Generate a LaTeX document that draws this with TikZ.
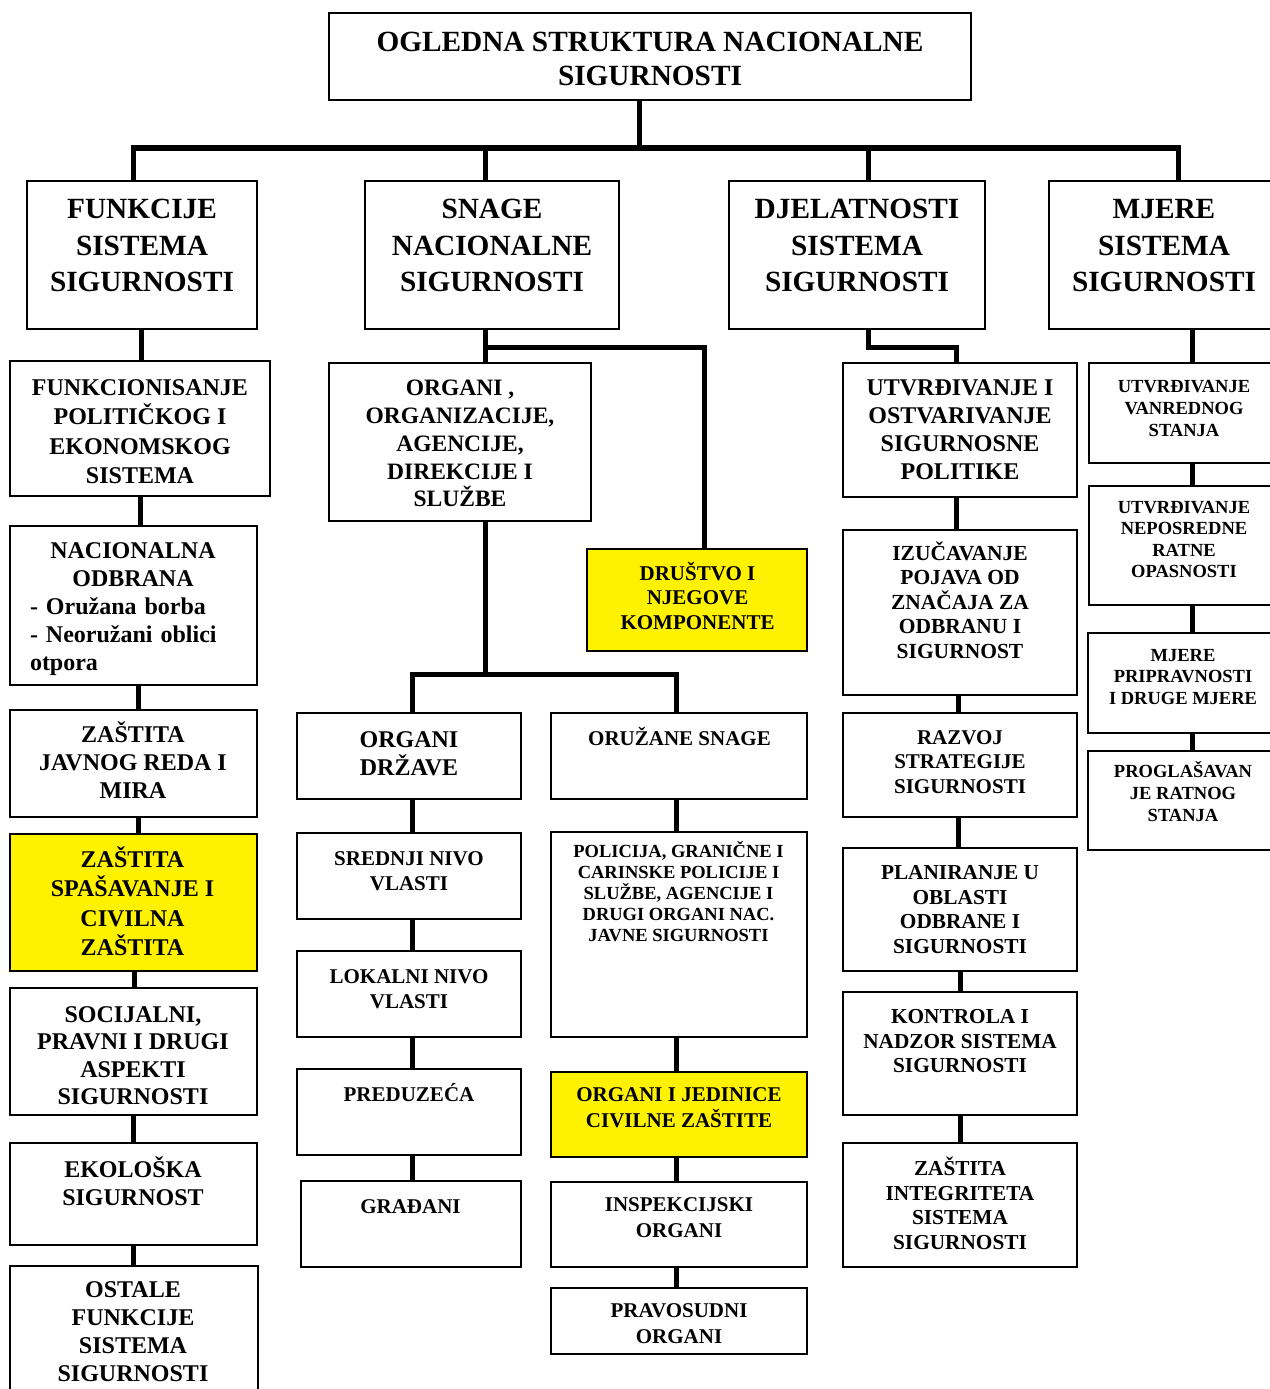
\documentclass[tikz,border=0pt]{standalone}
\usepackage{fontspec}
\setmainfont{Liberation Serif}
\begin{document}
\begin{tikzpicture}[x=1pt,y=-1pt,
  box/.style={draw=black,line width=1.3pt,rectangle,inner sep=0pt,outer sep=0pt},
  tx/.style={inner sep=0pt,outer sep=0pt,align=center,anchor=north,text=black},
  conn/.style={draw=black,line width=5pt,line join=miter},
  bar/.style={draw=black,line width=6pt}]
\newcommand\mybox[6]{\pgfmathsetmacro\bw{#4-#2}\pgfmathsetmacro\bh{#5-#3}%
  \node[box,fill=#6,minimum width=\bw pt,minimum height=\bh pt] (#1) at ({(#2+#4)/2},{(#3+#5)/2}) {};}
\newcommand\mytext[6]{\node[tx,font={\fontsize{#4}{#5}\selectfont\bfseries}] (#1) at (#2,{#3-0.669*#4}) {\rule{0pt}{1em}#6};}
\useasboundingbox (0,0) rectangle (1269,1389);
\fill[white] (0,0) rectangle (1269,1389);
% boxes
\mybox{title}{329}{13}{971}{100}{white}
\mybox{f0}{27}{181}{257}{329}{white}
\mybox{s0}{365}{181}{619}{329}{white}
\mybox{d0}{729}{181}{985}{329}{white}
\mybox{m0}{1049}{181}{1276}{329}{white}
\mybox{a1}{10}{361}{270}{496}{white}
\mybox{a2}{10}{526}{257}{685}{white}
\mybox{a3}{10}{710}{257}{817}{white}
\mybox{a4}{10}{834}{257}{971}{yellow}
\mybox{a5}{10}{988}{257}{1115}{white}
\mybox{a6}{10}{1143}{257}{1245}{white}
\mybox{a7}{10}{1266}{258}{1396}{white}
\mybox{b1}{329}{363}{591}{521}{white}
\mybox{b2}{587}{549}{807}{651}{yellow}
\mybox{c1}{297}{713}{521}{799}{white}
\mybox{c2}{297}{833}{521}{919}{white}
\mybox{c3}{297}{951}{521}{1037}{white}
\mybox{c4}{297}{1069}{521}{1155}{white}
\mybox{c5}{301}{1181}{521}{1267}{white}
\mybox{e1}{551}{713}{807}{799}{white}
\mybox{e2}{551}{832}{807}{1037}{white}
\mybox{e3}{551}{1072}{807}{1157}{yellow}
\mybox{e4}{551}{1182}{807}{1267}{white}
\mybox{e5}{551}{1288}{807}{1354}{white}
\mybox{g1}{843}{363}{1077}{497}{white}
\mybox{g2}{843}{530}{1077}{695}{white}
\mybox{g3}{843}{713}{1077}{817}{white}
\mybox{g4}{843}{848}{1077}{971}{white}
\mybox{g5}{843}{992}{1077}{1115}{white}
\mybox{g6}{843}{1143}{1077}{1267}{white}
\mybox{h1}{1089}{363}{1276}{463}{white}
\mybox{h2}{1089}{486}{1276}{605}{white}
\mybox{h3}{1088}{633}{1276}{733}{white}
\mybox{h4}{1088}{751}{1276}{850}{white}
% texts
\mytext{titlet}{650}{41.5}{29.3}{34.5}{OGLEDNA STRUKTURA NACIONALNE\\SIGURNOSTI}
\mytext{f0t}{142}{209}{29.3}{36.5}{FUNKCIJE\\SISTEMA\\SIGURNOSTI}
\mytext{s0t}{492}{209}{29.3}{36.5}{SNAGE\\NACIONALNE\\SIGURNOSTI}
\mytext{d0t}{857}{209}{29.3}{36.5}{DJELATNOSTI\\SISTEMA\\SIGURNOSTI}
\mytext{m0t}{1164}{209}{29.3}{36.5}{MJERE\\SISTEMA\\SIGURNOSTI}
\mytext{a1t}{140}{387.5}{24}{29.3}{FUNKCIONISANJE\\POLITIČKOG I\\EKONOMSKOG\\SISTEMA}
\node[inner sep=0pt,outer sep=0pt,anchor=north,text width=206pt,align=left,
  font={\fontsize{24}{28}\selectfont\bfseries}] (a2t) at (133,{551-0.669*24})
  {\makebox[\linewidth][c]{\rule{0pt}{1em}NACIONALNA}\\\makebox[\linewidth][c]{ODBRANA}\\- Oružana borba\\- Neoružani oblici\\otpora};
\mytext{a3t}{133}{735}{24}{28}{ZAŠTITA\\JAVNOG REDA I\\MIRA}
\mytext{a4t}{132.5}{859.5}{24}{29.5}{ZAŠTITA\\SPAŠAVANJE I\\CIVILNA\\ZAŠTITA}
\mytext{a5t}{133}{1014.5}{24}{27.4}{SOCIJALNI,\\PRAVNI I DRUGI\\ASPEKTI\\SIGURNOSTI}
\mytext{a6t}{133}{1170}{24}{27.3}{EKOLOŠKA\\SIGURNOST}
\mytext{a7t}{133}{1290}{24}{27.7}{OSTALE\\FUNKCIJE\\SISTEMA\\SIGURNOSTI}
\mytext{b1t}{460}{388}{23.5}{27.8}{ORGANI ,\\ORGANIZACIJE,\\AGENCIJE,\\DIREKCIJE I\\SLUŽBE}
\mytext{b2t}{697.5}{573.5}{21}{24.3}{DRUŠTVO I\\NJEGOVE\\KOMPONENTE}
\mytext{c1t}{409}{739.5}{24}{28}{ORGANI\\DRŽAVE}
\mytext{c2t}{409}{858.5}{21}{25}{SREDNJI NIVO\\VLASTI}
\mytext{c3t}{409}{976.5}{21}{25}{LOKALNI NIVO\\VLASTI}
\mytext{c4t}{409}{1094.5}{21}{25}{PREDUZEĆA}
\mytext{c5t}{410.5}{1206.5}{21}{25}{GRAĐANI}
\mytext{e1t}{679.5}{738.5}{21}{25}{ORUŽANE SNAGE}
\mytext{e2t}{678.5}{851.5}{18.5}{21}{POLICIJA, GRANIČNE I\\CARINSKE POLICIJE I\\SLUŽBE, AGENCIJE I\\DRUGI ORGANI NAC.\\JAVNE SIGURNOSTI}
\mytext{e3t}{679}{1094.5}{21}{26}{ORGANI I JEDINICE\\CIVILNE ZAŠTITE}
\mytext{e4t}{679}{1204.5}{21}{26}{INSPEKCIJSKI\\ORGANI}
\mytext{e5t}{679}{1310.5}{21}{26.5}{PRAVOSUDNI\\ORGANI}
\mytext{g1t}{960}{388}{24}{27.7}{UTVRĐIVANJE I\\OSTVARIVANJE\\SIGURNOSNE\\POLITIKE}
\mytext{g2t}{960}{553}{21.5}{24.5}{IZUČAVANJE\\POJAVA OD\\ZNAČAJA ZA\\ODBRANU I\\SIGURNOST}
\mytext{g3t}{960}{737.5}{21}{24.4}{RAZVOJ\\STRATEGIJE\\SIGURNOSTI}
\mytext{g4t}{960}{872.5}{21.3}{24.5}{PLANIRANJE U\\OBLASTI\\ODBRANE I\\SIGURNOSTI}
\mytext{g5t}{960}{1016.5}{21.3}{24.5}{KONTROLA I\\NADZOR SISTEMA\\SIGURNOSTI}
\mytext{g6t}{960}{1168.5}{21.3}{24.5}{ZAŠTITA\\INTEGRITETA\\SISTEMA\\SIGURNOSTI}
\mytext{h1t}{1184}{386}{18.5}{22}{UTVRĐIVANJE\\VANREDNOG\\STANJA}
\mytext{h2t}{1184}{507}{18.5}{21.5}{UTVRĐIVANJE\\NEPOSREDNE\\RATNE\\OPASNOSTI}
\mytext{h3t}{1183}{655}{18.5}{21.7}{MJERE\\PRIPRAVNOSTI\\I DRUGE MJERE}
\mytext{h4t}{1183}{771.5}{18.5}{21.7}{PROGLAŠAVAN\\JE RATNOG\\STANJA}
% coordinates
\coordinate (jT) at (639,148);
\coordinate (barL) at (130.5,148);
\coordinate (barR) at (1180.5,148);
\coordinate (k1) at (133,148);
\coordinate (k2) at (485,148);
\coordinate (k3) at (868,148);
\coordinate (k4) at (1178,148);
\coordinate (p1) at (141,0);
\coordinate (p2) at (140,0);
\coordinate (p3) at (138,0);
\coordinate (p5) at (134,0);
\coordinate (p6) at (133,0);
\coordinate (q0) at (485,347);
\coordinate (q1) at (704,347);
\coordinate (hL) at (412,674);
\coordinate (hR) at (676,674);
\coordinate (r0) at (868,347);
\coordinate (r1) at (956,347);
\coordinate (r2) at (958,0);
\coordinate (r3) at (960,0);
\coordinate (u) at (1192,0);
% connectors
\draw[conn] (title.south -| jT) -- (jT);
\draw[bar] (barL) -- (barR);
\draw[conn] (k1) -- (k1 |- f0.north);
\draw[conn] (k2) -- (k2 |- s0.north);
\draw[conn] (k3) -- (k3 |- d0.north);
\draw[conn] (k4) -- (k4 |- m0.north);
\draw[conn] (f0.south -| p1) -- (a1.north -| p1);
\draw[conn] (a1.south -| p2) -- (a2.north -| p2);
\draw[conn] (a2.south -| p3) -- (a3.north -| p3);
\draw[conn] (a3.south -| p3) -- (a4.north -| p3);
\draw[conn] (a4.south -| p5) -- (a5.north -| p5);
\draw[conn] (a5.south -| p6) -- (a6.north -| p6);
\draw[conn] (a6.south -| p6) -- (a7.north -| p6);
\draw[conn] (s0.south -| q0) -- (b1.north -| q0);
\draw[conn] (q0) -| (b2.north -| q1);
\draw[conn] (b1.south -| q0) -- (q0 |- hL);
\draw[conn] (c1.north -| hL) -- (hL) -- (hR) -- (e1.north -| hR);
\draw[conn] (c1.south -| hL) -- (c2.north -| hL);
\draw[conn] (c2.south -| hL) -- (c3.north -| hL);
\draw[conn] (c3.south -| hL) -- (c4.north -| hL);
\draw[conn] (c4.south -| hL) -- (c5.north -| hL);
\draw[conn] (e1.south -| hR) -- (e2.north -| hR);
\draw[conn] (e2.south -| hR) -- (e3.north -| hR);
\draw[conn] (e3.south -| hR) -- (e4.north -| hR);
\draw[conn] (e4.south -| hR) -- (e5.north -| hR);
\draw[conn] (d0.south -| r0) -- (r0) -- (r1) -- (g1.north -| r1);
\draw[conn] (g1.south -| r1) -- (g2.north -| r1);
\draw[conn] (g2.south -| r2) -- (g3.north -| r2);
\draw[conn] (g3.south -| r2) -- (g4.north -| r2);
\draw[conn] (g4.south -| r3) -- (g5.north -| r3);
\draw[conn] (g5.south -| r3) -- (g6.north -| r3);
\draw[conn] (m0.south -| u) -- (h1.north -| u);
\draw[conn] (h1.south -| u) -- (h2.north -| u);
\draw[conn] (h2.south -| u) -- (h3.north -| u);
\draw[conn] (h3.south -| u) -- (h4.north -| u);
\end{tikzpicture}
\end{document}
